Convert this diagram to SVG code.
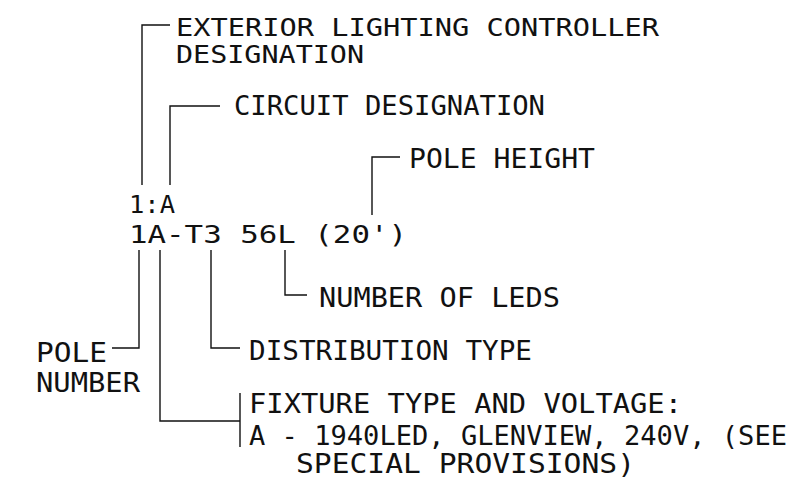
<svg xmlns="http://www.w3.org/2000/svg" width="795" height="491" viewBox="0 0 795 491">
<style>
text{font-family:"DejaVu Sans Mono","Liberation Mono",monospace;font-size:26px;fill:#111;}
.big{font-size:25.5px;}
.tight{font-size:24px;}
.ln{fill:none;stroke:#111;stroke-width:1.4;}
</style>
<rect width="795" height="491" fill="#fff"/>
<g id="connectors">
<polyline class="ln" points="142,185 142,25 170,25"/>
<polyline class="ln" points="170,185 170,106 220,106"/>
<polyline class="ln" points="372,215 372,157 400,157"/>
<polyline class="ln" points="285,250 285,295 307,295"/>
<polyline class="ln" points="211,250 211,348 240,348"/>
<polyline class="ln" points="139,250 139,348 112,348"/>
<polyline class="ln" points="160,250 160,421 240,421"/>
<line class="ln" x1="240" y1="393" x2="240" y2="447"/>
</g>
<g id="code">
<text class="big" x="129" y="213" textLength="46" lengthAdjust="spacingAndGlyphs">1:A</text>
<text class="big" x="129" y="243" textLength="278" lengthAdjust="spacingAndGlyphs">1A-T3 56L (20')</text>
</g>
<g id="controller">
<text class="tight" x="176" y="36" textLength="483" lengthAdjust="spacingAndGlyphs">EXTERIOR LIGHTING CONTROLLER</text>
<text class="tight" x="176" y="63" textLength="188" lengthAdjust="spacingAndGlyphs">DESIGNATION</text>
</g>
<g id="circuit">
<text x="234" y="115" textLength="311" lengthAdjust="spacingAndGlyphs">CIRCUIT DESIGNATION</text>
</g>
<g id="pole-height">
<text x="409" y="168" textLength="186" lengthAdjust="spacingAndGlyphs">POLE HEIGHT</text>
</g>
<g id="leds">
<text x="319" y="307" textLength="241" lengthAdjust="spacingAndGlyphs">NUMBER OF LEDS</text>
</g>
<g id="distribution">
<text x="249" y="360" textLength="283" lengthAdjust="spacingAndGlyphs">DISTRIBUTION TYPE</text>
</g>
<g id="pole-number">
<text x="36" y="362" textLength="71" lengthAdjust="spacingAndGlyphs">POLE</text>
<text x="36" y="392" textLength="104" lengthAdjust="spacingAndGlyphs">NUMBER</text>
</g>
<g id="fixture">
<text x="249" y="413" textLength="433" lengthAdjust="spacingAndGlyphs">FIXTURE TYPE AND VOLTAGE:</text>
<text x="249" y="445" textLength="538" lengthAdjust="spacingAndGlyphs">A - 1940LED, GLENVIEW, 240V, (SEE</text>
<text x="296" y="473" textLength="339" lengthAdjust="spacingAndGlyphs">SPECIAL PROVISIONS)</text>
</g>
</svg>
